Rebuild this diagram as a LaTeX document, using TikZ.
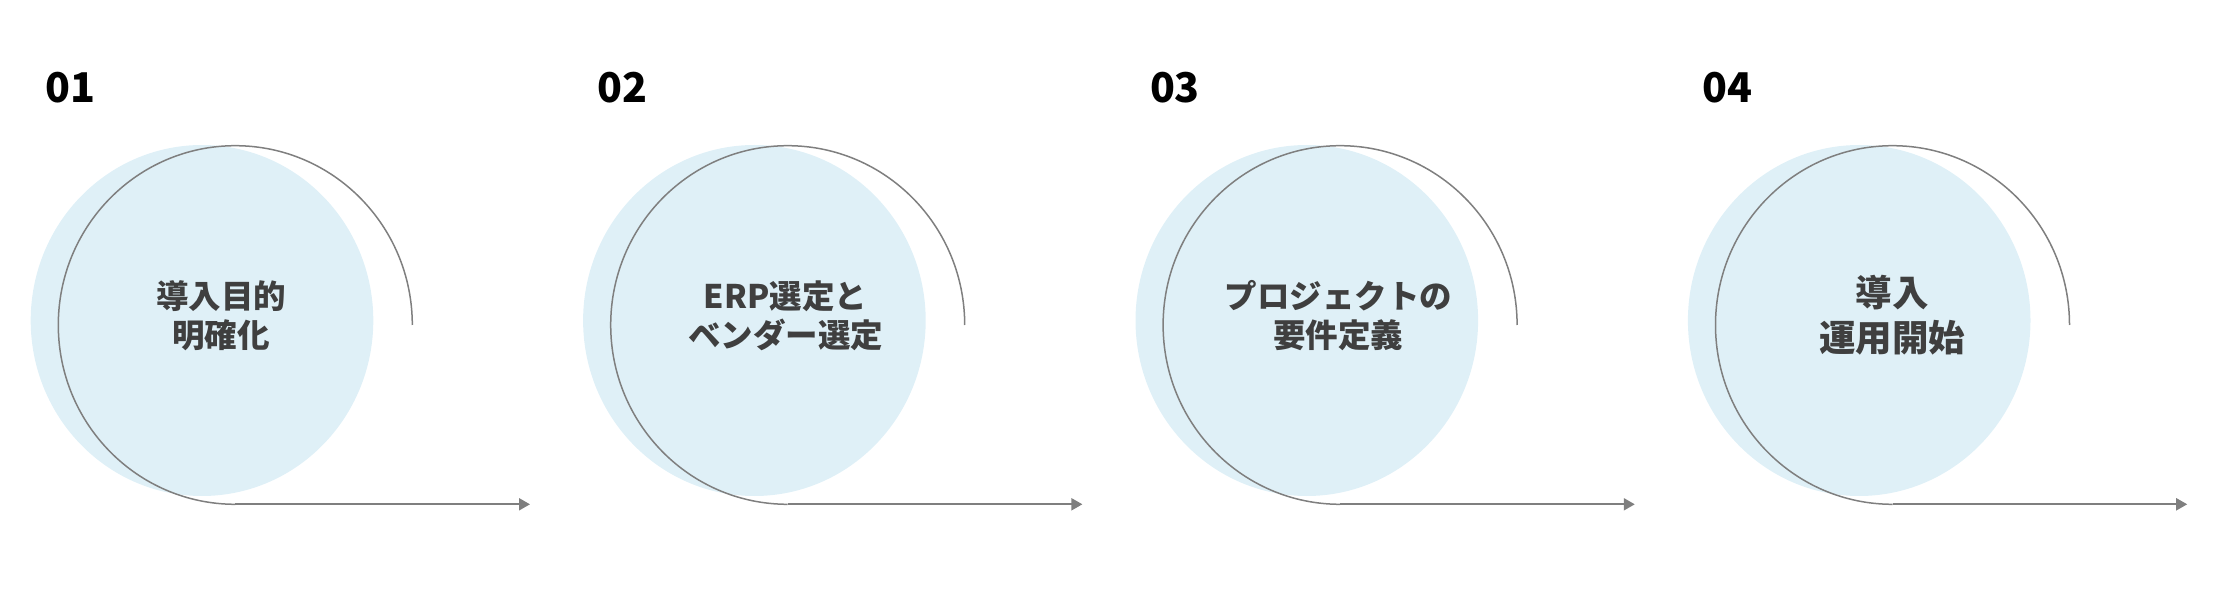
\documentclass[tikz,border=0pt]{standalone}
\usepackage{fontspec}
\setmainfont{Noto Sans CJK JP}
\usetikzlibrary{arrows.meta}
\definecolor{fillblue}{HTML}{DFF0F7}
\definecolor{linegray}{HTML}{7F7F7F}
\definecolor{txtgray}{HTML}{3F3F3F}
\begin{document}
\begin{tikzpicture}[x=1pt,y=-1pt,
  bubble/.style={fill=fillblue},
  arcline/.style={draw=linegray,line width=1.5pt},
  arrowline/.style={draw=linegray,line width=2pt,-{Triangle[length=11pt,width=12pt]}},
  steplabel/.style={text=txtgray,align=center,inner sep=0pt},
  stepnum/.style={text=black,anchor=base west,inner sep=0pt,font=\bfseries\fontsize{41}{48}\selectfont}]
\useasboundingbox (0,0) rectangle (2227,593);
\foreach \i/\cx/\cy/\fs/\ls/\la/\lb in {0/221/316/32.5/39/導入目的/明確化,1/785.5/316/32.5/39/ERP選定と/ベンダー選定,2/1338.3/316/32.5/39/プロジェクトの/要件定義,3/1892.3/315/36.5/45/導入/運用開始}{
  \pgfmathsetmacro{\dx}{552.4*\i}
  \fill[bubble] (202+\dx,320.5) ellipse [x radius=171.3, y radius=175.5];
  \coordinate (s\i) at (412.3+\dx,325);
  \coordinate (e\i) at (530+\dx,504.3);
  \draw[arcline] (s\i) arc[start angle=0,end angle=-270,x radius=177,y radius=179.3] coordinate (b\i);
  \draw[arrowline] (b\i) -- (e\i);
  \node[steplabel,font=\bfseries\fontsize{\fs}{\ls}\selectfont] (t\i) at (\cx,\cy) {\la\\\lb};
  \pgfmathtruncatemacro{\n}{\i+1}
  \node[stepnum] (n\i) at (45+\dx,102.7) {0\n};
}
\end{tikzpicture}
\end{document}
